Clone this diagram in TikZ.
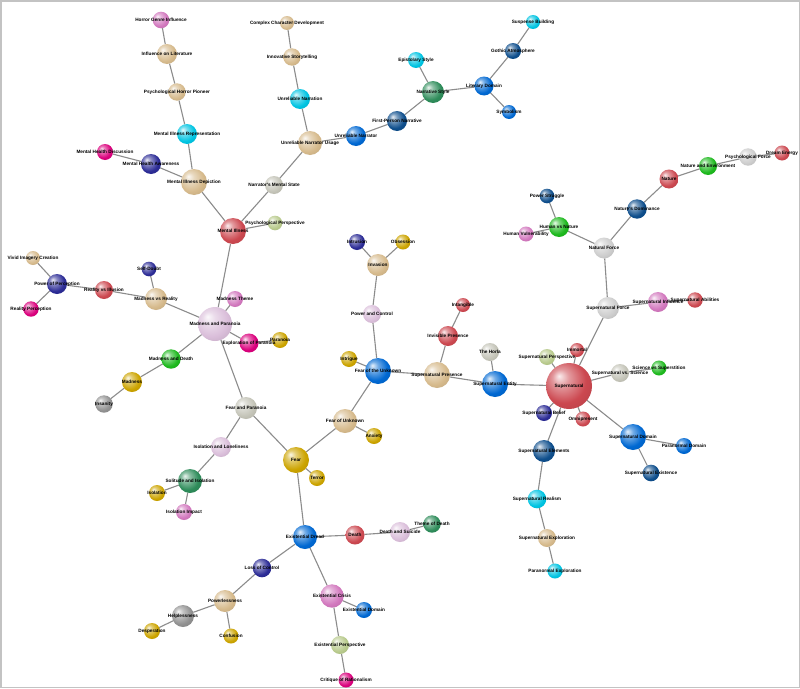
\documentclass[tikz,border=0pt]{standalone}
\usepackage{fontspec}
\newfontfamily\lblfont{Liberation Sans}
\definecolor{ctan}{RGB}{214,186,140}
\definecolor{cred}{RGB}{204,72,80}
\definecolor{ccyan}{RGB}{0,196,226}
\definecolor{cblue}{RGB}{0,104,210}
\definecolor{cdblue}{RGB}{14,78,140}
\definecolor{cnavy}{RGB}{44,44,150}
\definecolor{cmag}{RGB}{218,0,124}
\definecolor{corch}{RGB}{210,120,190}
\definecolor{cthis}{RGB}{218,190,218}
\definecolor{csilv}{RGB}{205,205,205}
\definecolor{csgray}{RGB}{196,196,184}
\definecolor{colive}{RGB}{184,202,140}
\definecolor{cgreen}{RGB}{30,185,30}
\definecolor{cteal}{RGB}{46,140,90}
\definecolor{cgold}{RGB}{204,164,0}
\definecolor{cgray}{RGB}{145,145,145}
\definecolor{edgegray}{RGB}{140,140,140}
\definecolor{framegray}{RGB}{195,195,195}
\colorlet{sphc}{white}
\pgfdeclareradialshading[sphc]{sphere}{\pgfpoint{-11bp}{11bp}}{%
  color(0bp)=(sphc!10!white);
  color(9bp)=(sphc!55!white);
  color(24bp)=(sphc);
  color(42bp)=(sphc!85!black);
  color(50bp)=(sphc!70!black)}
\pgfdeclarelayer{bg}
\pgfsetlayers{bg,main}
\tikzset{
  sph color/.code={\colorlet{sphc}{#1}},
  sph/.style={circle, inner sep=0pt, outer sep=0pt, shade, shading=sphere, sph color=#1},
  edge/.style={draw=edgegray, line width=1.1pt},
  lbl/.style={font=\lblfont\bfseries\fontsize{4.7}{5}\selectfont, inner sep=0pt, text=black}
}
\def\NL{%
hgi/161/20/8.3/corch/Horror Genre Influence,
iol/167/54/10/ctan/Influence on Literature,
php/177/92/8.7/ctan/Psychological Horror Pioneer,
mir/187/134/10/ccyan/Mental Illness Representation,
mid/194/182/13/ctan/Mental Illness Depiction,
mha/151/164/10/cnavy/Mental Health Awareness,
mhd/105/152/8/cmag/Mental Health Discussion,
mi/233/231/13/cred/Mental Illness,
nms/274/185/9/csgray/Narrator's Mental State,
pp/275/223/7.3/colive/Psychological Perspective,
unu/310/143/12/ctan/Unreliable Narrator Usage,
una/300/99/10/ccyan/Unreliable Narration,
ins/292/57/8.7/ctan/Innovative Storytelling,
ccd/287/23/7/ctan/Complex Character Development,
unr/356/136/10/cblue/Unreliable Narrator,
fpn/397/121/10/cdblue/First-Person Narrative,
nst/433/92/11/cteal/Narrative Style,
eps/416/60/8/ccyan/Epistolary Style,
ld/484/86/9.5/cblue/Literary Domain,
ga/513/51/8/cdblue/Gothic Atmosphere,
sb/533/22/7/ccyan/Suspense Building,
sym/509/112/7/cblue/Symbolism,
de/782/153/7.5/cred/Dream Energy,
pf/748/157/8.7/csilv/Psychological Force,
ne/708/166/9/cgreen/Nature and Environment,
nat/669/179/9.5/cred/Nature,
nd/637/209/9.7/cdblue/Nature's Dominance,
nf/604/248/10.5/csilv/Natural Force,
ps/547/196/7.3/cdblue/Power Struggle,
hvn/559/227/10/cgreen/Human vs Nature,
hv/526/234/7.5/corch/Human Vulnerability,
sf/608/308/11/csilv/Supernatural Force,
si/658/302/10/corch/Supernatural Influence,
sa/695/300/7.7/cred/Supernatural Abilities,
sn/569/386/23/cred/Supernatural,
imm/577/350/7/cred/Immortal,
sp/547/357/8/colive/Supernatural Perspective,
svs/620/373/9/csgray/Supernatural vs. Science,
svsu/659/368/7.5/cgreen/Science vs Superstition,
sd/633/437/13/cblue/Supernatural Domain,
pd/684/446/8/cblue/Paranormal Domain,
sx/651/473/8.3/cdblue/Supernatural Existence,
sbel/544/413/8/cnavy/Supernatural Belief,
omn/583/419/7.5/cred/Omnipresent,
se/544/451/11/cdblue/Supernatural Elements,
sr/537/499/9.3/ccyan/Supernatural Realism,
sex/547/538/9/ctan/Supernatural Exploration,
pe/555/571/7.5/ccyan/Paranormal Exploration,
sen/495/384/13/cblue/Supernatural Entity,
th/490/352/9/csgray/The Horla,
spr/437/375/13/ctan/Supernatural Presence,
ip/448/336/10/cred/Invisible Presence,
int/463/305/7/cred/Intangible,
fotu/378/371/13/cblue/Fear of the Unknown,
itg/349/359/8/cgold/Intrigue,
pac/372/314/9/cthis/Power and Control,
inv/378/265/11/ctan/Invasion,
itr/357/242/8/cnavy/Intrusion,
obs/403/242/7.5/cgold/Obsession,
fou/345/421/12/ctan/Fear of Unknown,
anx/374/436/8/cgold/Anxiety,
fear/296/460/13/cgold/Fear,
ter/317/478/8/cgold/Terror,
fap/246/408/11/csgray/Fear and Paranoia,
map/215/324/17/cthis/Madness and Paranoia,
mt/235/299/8/corch/Madness Theme,
eop/249/343/9.5/cmag/Exploration of Paranoia,
par/280/340/8/cgold/Paranoia,
mvr/156/299/11/ctan/Madness vs Reality,
sdo/149/269/7.3/cnavy/Self-Doubt,
rvi/104/290/9/cred/Reality vs Illusion,
pop/57/284/10/cnavy/Power of Perception,
vic/33/258/7/ctan/Vivid Imagery Creation,
rp/31/309/7.7/cmag/Reality Perception,
mad/171/359/9.7/cgreen/Madness and Death,
mdn/132/382/10/cgold/Madness,
isn/104/404/8.7/cgray/Insanity,
ial/221/447/10/cthis/Isolation and Loneliness,
soi/190/481/12/cteal/Solitude and Isolation,
iso/157/493/8/cgold/Isolation,
ii/184/512/8/corch/Isolation Impact,
ed/305/537/12/cblue/Existential Dread,
dth/355/535/9.5/cred/Death,
das/400/532/10/cthis/Death and Suicide,
tod/432/524/8.7/cteal/Theme of Death,
loc/262/568/9.3/cnavy/Loss of Control,
pwl/225/601/11/ctan/Powerlessness,
hel/183/616/11/cgray/Helplessness,
des/152/631/8/cgold/Desperation,
con/231/636/7.5/cgold/Confusion,
ec/332/596/11.7/corch/Existential Crisis,
edo/364/610/8/cblue/Existential Domain,
ep/340/645/9/colive/Existential Perspective,
cor/346/680/7.5/cmag/Critique of Rationalism%
}
\def\EL{%
hgi/iol, iol/php, php/mir, mir/mid, mhd/mha, mha/mid, mid/mi, mi/nms, mi/pp,
nms/unu, unu/una, una/ins, ins/ccd, unu/unr, unr/fpn, fpn/nst, nst/eps, nst/ld,
ld/ga, ga/sb, ld/sym, mi/map, map/mt, map/eop, eop/par, map/mvr, mvr/sdo,
mvr/rvi, rvi/pop, pop/vic, pop/rp, map/mad, mad/mdn, mdn/isn, map/fap,
fap/ial, ial/soi, soi/iso, soi/ii, fap/fear, fear/ter, fear/fou, fou/anx,
fou/fotu, fotu/itg, fotu/pac, pac/inv, inv/itr, inv/obs, fotu/spr, spr/ip,
ip/int, spr/sen, sen/th, sen/sn, sn/imm, sn/sp, sn/sf, sf/nf, sf/si, si/sa,
nf/hvn, hvn/ps, hvn/hv, nf/nd, nd/nat, nat/ne, ne/pf, pf/de, sn/svs, svs/svsu,
sn/sd, sd/pd, sd/sx, sn/sbel, sn/omn, sn/se, se/sr, sr/sex, sex/pe, fear/ed,
ed/dth, dth/das, das/tod, ed/loc, loc/pwl, pwl/hel, hel/des, pwl/con, ed/ec,
ec/edo, ec/ep, ep/cor%
}
\begin{document}
\begin{tikzpicture}[x=1pt,y=-1pt]
\useasboundingbox (0,0) rectangle (800,688);
\foreach \n/\x/\y/\r/\c/\t in \NL {
  \node[sph=\c, minimum size={2*\r*1pt}] (\n) at (\x,\y) {};
}
\begin{pgfonlayer}{bg}
\fill[white] (0,0) rectangle (800,688);
\draw[framegray, line width=1.5pt] (0.75,0.75) rectangle (799.25,687.25);
\foreach \a/\b in \EL { \draw[edge] (\a) -- (\b); }
\end{pgfonlayer}
\foreach \n/\x/\y/\r/\c/\t in \NL {
  \node[lbl] at (\n.center) {\t};
}
\end{tikzpicture}
\end{document}
